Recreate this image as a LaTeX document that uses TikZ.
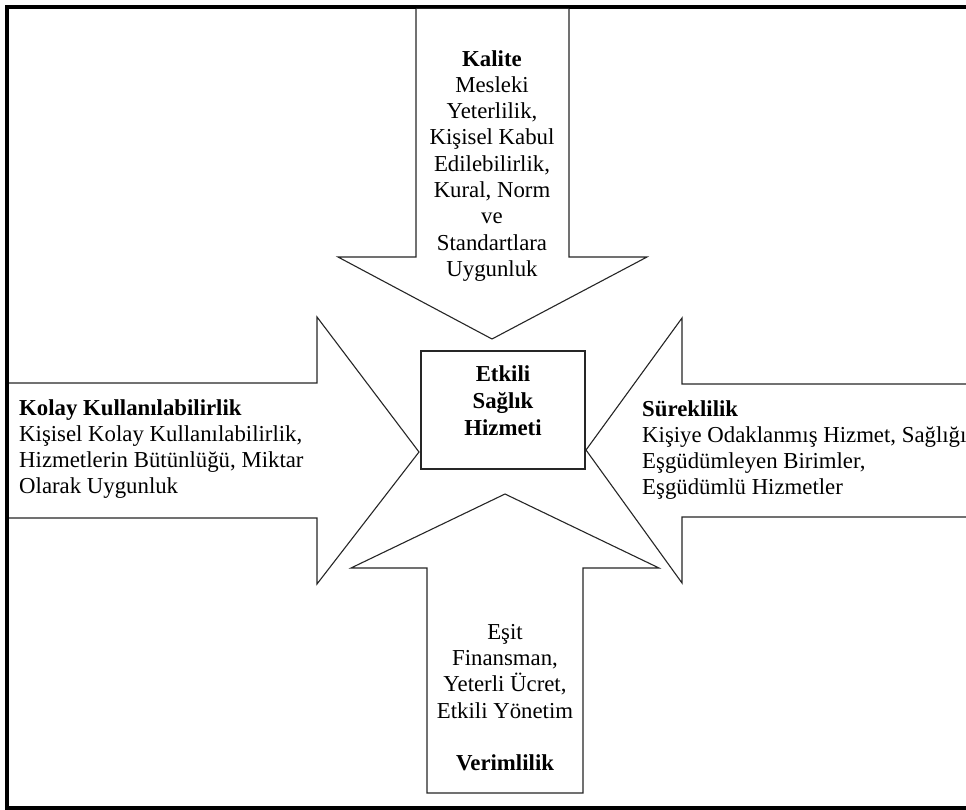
\documentclass[tikz,border=0pt]{standalone}
\usepackage{fontspec}
\setmainfont{Liberation Serif}
\begin{document}
\begin{tikzpicture}[x=1pt,y=-1pt,
  frame/.style={line width=4pt,line cap=rect},
  bigarrow/.style={draw=black!85,line width=1.1pt,line join=miter,fill=white},
  label/.style={inner sep=0pt,font=\fontsize{22.8}{26.3}\selectfont},
  hubbox/.style={draw=black!85,line width=1.1pt,minimum width=164pt,minimum height=118pt,inner sep=0pt}]
\useasboundingbox (0,0) rectangle (966,810);
% outer frame, open on the right
\draw[frame] (970,7) -- (7,7) -- (7,808) -- (970,808);

% top arrow (Kalite)
\draw[bigarrow] (416,9) -- (416,257) -- (338,257) -- (492,339) -- (647,257) -- (569,257) -- (569,9);
% left arrow (Kolay Kullanilabilirlik)
\draw[bigarrow] (9,383) -- (317,383) -- (317,317) -- (419,452) -- (317,584) -- (317,518) -- (9,518);
% right arrow (Sureklilik)
\draw[bigarrow] (970,384) -- (682,384) -- (682,318) -- (586,450) -- (682,583) -- (682,517) -- (970,517);
% bottom arrow (Verimlilik)
\draw[bigarrow] (427,793) -- (427,568) -- (351,568) -- (505,494) -- (659,568) -- (583,568) -- (583,793) -- cycle;

% central box
\node[hubbox] (hub) at (503,410) {};
\node[label,anchor=north,align=center,font=\fontsize{22.8}{27}\selectfont\bfseries] (hubtext) at (503,365)
  {Etkili\\Sağlık\\Hizmeti};

\node[label,anchor=north,align=center] (kalite) at (492,50)
  {\textbf{Kalite}\\Mesleki\\Yeterlilik,\\Kişisel Kabul\\Edilebilirlik,\\Kural, Norm\\ve\\Standartlara\\Uygunluk};

\node[label,anchor=north west,align=left] (kolay) at (19,399)
  {\textbf{Kolay Kullanılabilirlik}\\Kişisel Kolay Kullanılabilirlik,\\Hizmetlerin Bütünlüğü, Miktar\\Olarak Uygunluk};

\node[label,anchor=north west,align=left] (sureklilik) at (642,400)
  {\textbf{Süreklilik}\\Kişiye Odaklanmış Hizmet, Sağlığı\\Eşgüdümleyen Birimler,\\Eşgüdümlü Hizmetler};

\node[label,anchor=north,align=center] (verimlilik) at (505,624)
  {Eşit\\Finansman,\\Yeterli Ücret,\\Etkili Yönetim\\[26.3pt]\textbf{Verimlilik}};
\end{tikzpicture}
\end{document}
